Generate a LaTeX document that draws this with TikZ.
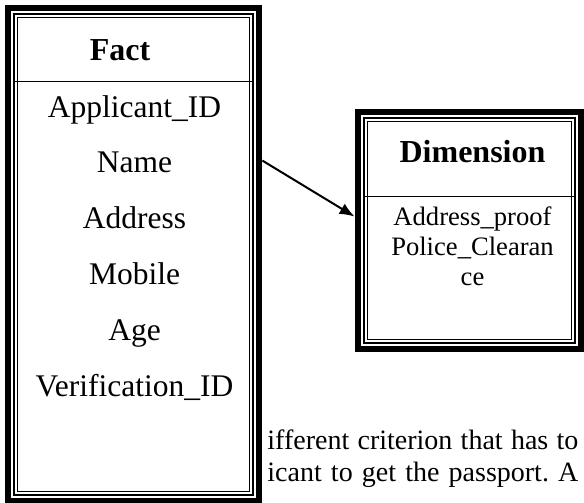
\documentclass[tikz,border=0pt]{standalone}
\usepackage{fontspec}
\setmainfont{Liberation Serif}
\usetikzlibrary{arrows.meta,positioning}
\frenchspacing
\tikzset{
    every node/.append style={align=center},
    entity/.style={rectangle,inner sep=0pt},
    outerline/.style={line width=3.25pt},
    midline/.style={line width=1pt},
    hairline/.style={line width=0.5pt},
    sepline/.style={line width=0.75pt},
    title/.style={font=\fontsize{16}{19}\selectfont\bfseries,inner sep=0pt},
    attr/.style={font=\fontsize{15.75}{18}\selectfont,inner sep=0pt,text height=11pt,text depth=4.75pt},
    dimattr/.style={font=\fontsize{13.3}{15}\selectfont,inner sep=0pt},
    para/.style={font=\fontsize{14}{16}\selectfont,inner sep=0pt,anchor=base west},
    arr/.style={-{Latex[length=7.5pt,width=6pt]},line width=1pt}
}

\begin{document}
\begin{tikzpicture}[x=0.5pt,y=-0.5pt,node distance=11.75pt]
    \useasboundingbox (0,0) rectangle (584,503);

    % the two tables
    \node[entity,minimum width=128.5pt,minimum height=249.5pt] (fact) at (133.5,254.5) {};
    \node[entity,minimum width=114.5pt,minimum height=121.5pt] (dim) at (469.5,230.5) {};

    % triple frames: thick, thin, hairline
    \draw[outerline] ([shift={(1.625pt,-1.625pt)}]fact.north west) rectangle ([shift={(-1.625pt,1.625pt)}]fact.south east);
    \draw[midline] ([shift={(4.5pt,-4.5pt)}]fact.north west) rectangle ([shift={(-4.5pt,4.5pt)}]fact.south east);
    \draw[hairline] ([shift={(6.25pt,-6.25pt)}]fact.north west) rectangle ([shift={(-6.25pt,6.25pt)}]fact.south east);
    \draw[outerline] ([shift={(1.625pt,-1.625pt)}]dim.north west) rectangle ([shift={(-1.625pt,1.625pt)}]dim.south east);
    \draw[midline] ([shift={(4.5pt,-4.5pt)}]dim.north west) rectangle ([shift={(-4.5pt,4.5pt)}]dim.south east);
    \draw[hairline] ([shift={(6.25pt,-6.25pt)}]dim.north west) rectangle ([shift={(-6.25pt,6.25pt)}]dim.south east);

    % header rules
    \draw[sepline] ([shift={(4.5pt,-38.5pt)}]fact.north west) -- ([shift={(-4.5pt,-38.5pt)}]fact.north east);
    \draw[sepline] ([shift={(4.5pt,-44pt)}]dim.north west) -- ([shift={(-4.5pt,-44pt)}]dim.north east);

    \node[title,anchor=base] (facttitle) at (120,61) {Fact};
    \node[title,anchor=base] (dimtitle) at (472.5,162) {Dimension};

    \node[attr,anchor=base] (appid) at (134.5,117) {Applicant\_ID};
    \node[attr,below=of appid] (name) {Name};
    \node[attr,below=of name] (addr) {Address};
    \node[attr,below=of addr] (mobile) {Mobile};
    \node[attr,below=of mobile] (age) {Age};
    \node[attr,below=of age] (verid) {Verification\_ID};

    % base anchor sits on the last line
    \node[dimattr,anchor=base] (dimlist) at (472.5,285) {Address\_proof\\Police\_Clearan\\ce};

    \draw[arr] ([yshift=-78pt]fact.north east) -- ([yshift=-54pt]dim.north west);

    \node[para] (line1) at (267,449) {\makebox[155.5pt][s]{ifferent criterion that has to}};
    \node[para] (line2) at (267,481) {\makebox[155.5pt][s]{icant to get the passport. A}};
\end{tikzpicture}
\end{document}
